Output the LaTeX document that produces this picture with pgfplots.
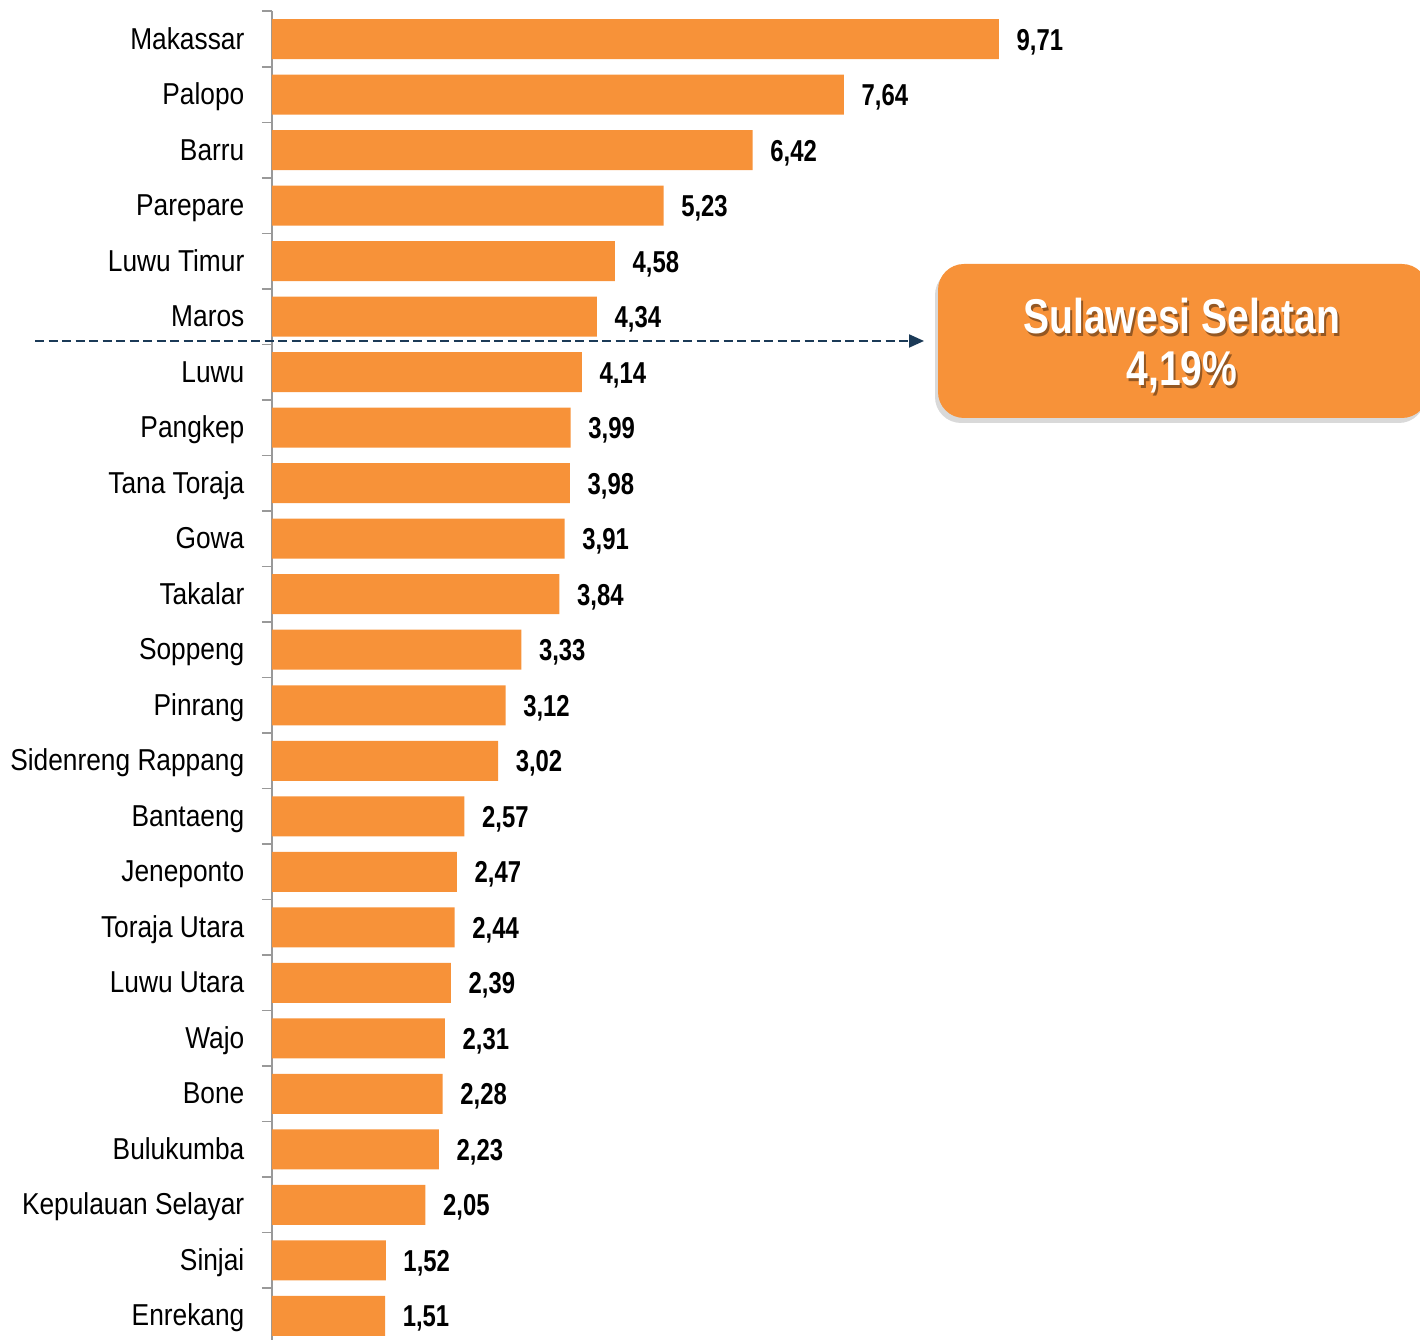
\documentclass[border=0pt]{standalone}
\usepackage{pgfplots}
\pgfplotsset{compat=1.18}
\usepackage{pgfplotstable}
\usepackage{fontspec}
\setmainfont{Liberation Sans}[FakeStretch=0.87]
\newfontfamily\valfont{Liberation Sans}[FakeStretch=0.79]
\newfontfamily\boxfont{Liberation Sans}[FakeStretch=0.80]
\usetikzlibrary{arrows.meta,shadows}
\definecolor{barorange}{HTML}{F79239}
\definecolor{navy}{HTML}{1B3A57}
\pgfplotstableread{
idx val
0 9.71
1 7.64
2 6.42
3 5.23
4 4.58
5 4.34
6 4.14
7 3.99
8 3.98
9 3.91
10 3.84
11 3.33
12 3.12
13 3.02
14 2.57
15 2.47
16 2.44
17 2.39
18 2.31
19 2.28
20 2.23
21 2.05
22 1.52
23 1.51
}\datatable
\begin{document}
\begin{tikzpicture}
\useasboundingbox (0,0) rectangle (142mm,134mm);
\begin{axis}[
  at={(27.2mm,-0.375mm)}, anchor=south west,
  scale only axis, width=112.3mm, height=133.25mm,
  xmin=0, xmax=15, ymin=-0.5, ymax=23.5, y dir=reverse,
  xbar, bar width=4mm,
  axis x line=none, axis y line*=left,
  y axis line style={draw=gray!80, line width=0.15mm},
  ytick={0,...,23},
  yticklabels={Makassar,Palopo,Barru,Parepare,Luwu Timur,Maros,Luwu,Pangkep,Tana Toraja,Gowa,Takalar,Soppeng,Pinrang,Sidenreng Rappang,Bantaeng,Jeneponto,Toraja Utara,Luwu Utara,Wajo,Bone,Bulukumba,Kepulauan Selayar,Sinjai,Enrekang},
  major tick length=0pt,
  major tick style={draw=none},
  minor ytick={-0.5,0.5,...,23.5},
  minor tick length=1mm,
  ytick align=outside,
  minor tick style={draw=gray!80, line width=0.15mm},
  yticklabel style={font=\fontsize{8.6}{10}\selectfont, anchor=base east, inner sep=0pt, xshift=-2.7mm, yshift=-1.0mm},
  clip=false,
  point meta=x,
  nodes near coords={\pgfmathprintnumber[fixed,fixed zerofill,precision=2,use comma,assume math mode=true]{\pgfplotspointmeta}},
  nodes near coords align=horizontal,
  every node near coord/.append style={font=\valfont\bfseries\fontsize{8.6}{10}\selectfont, anchor=base west, inner sep=0pt, xshift=1.7mm, yshift=-1.1mm, text=black},
]
\addplot[fill=barorange, draw=none] table[x=val, y=idx] {\datatable};
\end{axis}
\draw[navy, line width=0.2mm, dash pattern=on 0.9mm off 0.45mm, -{Triangle[length=1.5mm,width=1.3mm]}] (3.5mm,99.9mm) -- (92.4mm,99.9mm);
\fill[barorange, rounded corners=2.6mm, drop shadow={shadow xshift=-0.3mm, shadow yshift=-0.5mm, opacity=0.3}] (93.8mm,92.2mm) rectangle (142.8mm,107.6mm);
\begin{scope}[font=\boxfont\bfseries\fontsize{13.9}{16}\selectfont]
\node[text=black, opacity=0.4] at (118.4mm,102.1mm) {Sulawesi Selatan};
\node[text=white] at (118.2mm,102.4mm) {Sulawesi Selatan};
\node[text=black, opacity=0.4] at (118.4mm,96.5mm) {4,19\%};
\node[text=white] at (118.2mm,96.8mm) {4,19\%};
\end{scope}
\end{tikzpicture}
\end{document}
